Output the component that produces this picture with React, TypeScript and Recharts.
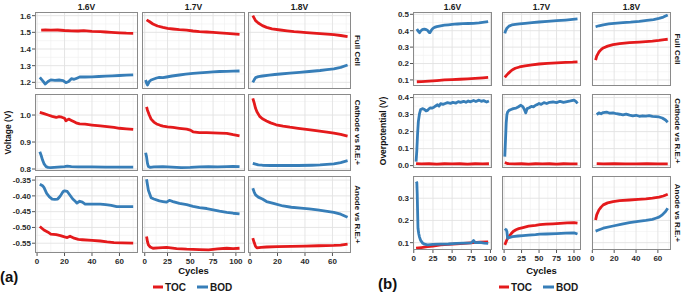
import { LineChart, Line, XAxis, YAxis, CartesianGrid } from "recharts";

type Pt = [number, number];

const FONT = '"Liberation Sans", Arial, sans-serif';
const RED = "#E41A1C";
const BLUE = "#377EB8";

const VOLTAGES = ["1.6V", "1.7V", "1.8V"];
const ROW_LABELS = ["Full Cell", "Cathode vs R.E.+", "Anode vs R.E.+"];
const SERIES = ["TOC", "BOD"];

// ---- (a) Voltage, [cycle, value] ----
const A_FC_16_TOC: Pt[] = [[3,1.513],[6,1.514],[10,1.513],[15,1.514],[20,1.511],[25,1.509],[30,1.508],[34,1.51],[40,1.506],[46,1.504],[50,1.502],[54,1.5],[60,1.497],[65,1.495],[70,1.494]];
const A_FC_16_BOD: Pt[] = [[2,1.23],[4,1.21],[6,1.19],[8,1.205],[10,1.215],[13,1.212],[16,1.214],[19,1.21],[21,1.198],[23,1.205],[25,1.222],[27,1.218],[29,1.225],[31,1.232],[35,1.232],[40,1.233],[45,1.235],[50,1.237],[55,1.239],[60,1.241],[65,1.243],[70,1.245]];
const A_FC_17_TOC: Pt[] = [[2,1.575],[5,1.565],[9,1.55],[14,1.538],[20,1.53],[25,1.524],[31,1.52],[38,1.516],[46,1.513],[53,1.508],[60,1.504],[68,1.502],[75,1.5],[82,1.497],[90,1.494],[97,1.491],[104,1.488]];
const A_FC_17_BOD: Pt[] = [[1,1.214],[2,1.195],[3,1.184],[5,1.205],[7,1.214],[10,1.22],[13,1.226],[16,1.23],[20,1.228],[24,1.232],[30,1.238],[38,1.244],[45,1.249],[53,1.254],[60,1.257],[68,1.26],[75,1.263],[82,1.265],[90,1.266],[97,1.267],[104,1.268]];
const A_FC_18_TOC: Pt[] = [[2,1.6],[3,1.585],[4,1.57],[6,1.556],[9,1.54],[12,1.53],[16,1.521],[22,1.514],[27,1.509],[32,1.504],[37,1.501],[41,1.498],[46,1.495],[51,1.492],[56,1.489],[61,1.486],[66,1.481],[71,1.474]];
const A_FC_18_BOD: Pt[] = [[2,1.2],[3,1.215],[4,1.228],[6,1.234],[9,1.238],[14,1.243],[18,1.247],[22,1.25],[29,1.255],[36,1.26],[43,1.265],[51,1.271],[56,1.276],[61,1.281],[66,1.29],[71,1.304]];

const A_CA_16_TOC: Pt[] = [[2,1.01],[5,1.005],[8,1.0],[11,0.995],[14,0.991],[16,0.994],[18,0.992],[20,0.988],[21,0.979],[23,0.985],[25,0.98],[27,0.975],[29,0.97],[31,0.967],[35,0.966],[40,0.963],[46,0.96],[51,0.957],[56,0.954],[60,0.951],[65,0.949],[70,0.947]];
const A_CA_16_BOD: Pt[] = [[2,0.864],[3,0.85],[4,0.833],[5,0.82],[6.5,0.809],[8,0.806],[10,0.805],[15,0.807],[20,0.809],[22,0.811],[25,0.809],[30,0.808],[40,0.808],[50,0.807],[60,0.807],[70,0.807]];
const A_CA_17_TOC: Pt[] = [[2,1.03],[3,1.018],[5,1.0],[7,0.985],[10,0.974],[13,0.967],[17,0.962],[20,0.959],[25,0.956],[31,0.954],[38,0.951],[46,0.948],[50,0.944],[53,0.938],[60,0.935],[68,0.935],[75,0.934],[82,0.933],[90,0.932],[97,0.927],[104,0.923]];
const A_CA_17_BOD: Pt[] = [[1,0.86],[2,0.845],[3,0.821],[4,0.809],[6,0.806],[10,0.808],[20,0.809],[30,0.807],[40,0.805],[50,0.806],[60,0.808],[70,0.809],[80,0.808],[90,0.809],[97,0.81],[104,0.809]];
const A_CA_18_TOC: Pt[] = [[2,1.062],[3,1.045],[4,1.025],[5,1.012],[7,0.995],[9,0.986],[12,0.978],[15,0.971],[19,0.964],[24,0.959],[29,0.955],[35,0.951],[41,0.947],[48,0.942],[56,0.937],[61,0.933],[66,0.928],[71,0.922]];
const A_CA_18_BOD: Pt[] = [[2,0.821],[4,0.818],[6,0.815],[9,0.814],[15,0.813],[25,0.813],[35,0.813],[45,0.814],[51,0.815],[56,0.817],[61,0.819],[66,0.824],[71,0.831]];

const A_AN_16_TOC: Pt[] = [[2,-0.497],[5,-0.508],[8,-0.515],[10,-0.521],[14,-0.523],[17,-0.526],[20,-0.53],[22,-0.532],[24,-0.528],[27,-0.534],[30,-0.538],[33,-0.539],[40,-0.541],[46,-0.543],[51,-0.546],[56,-0.548],[62,-0.549],[70,-0.55]];
const A_AN_16_BOD: Pt[] = [[2,-0.363],[4,-0.368],[5,-0.373],[7,-0.392],[9,-0.403],[11,-0.41],[13,-0.411],[15,-0.41],[16,-0.405],[17,-0.4],[19,-0.386],[20,-0.384],[22,-0.386],[24,-0.398],[26,-0.41],[28,-0.418],[29,-0.423],[31,-0.417],[33,-0.42],[35,-0.426],[40,-0.426],[46,-0.426],[50,-0.428],[54,-0.43],[58,-0.434],[64,-0.434],[70,-0.434]];
const A_AN_17_TOC: Pt[] = [[2,-0.529],[3,-0.545],[4,-0.555],[6,-0.562],[9,-0.566],[15,-0.565],[24,-0.563],[35,-0.567],[46,-0.569],[60,-0.57],[70,-0.571],[80,-0.568],[90,-0.566],[97,-0.567],[104,-0.566]];
const A_AN_17_BOD: Pt[] = [[2,-0.347],[3,-0.365],[4,-0.382],[6,-0.398],[7,-0.406],[10,-0.41],[16,-0.416],[20,-0.418],[24,-0.42],[27,-0.414],[31,-0.418],[38,-0.424],[46,-0.428],[53,-0.433],[60,-0.437],[68,-0.44],[75,-0.444],[82,-0.448],[90,-0.452],[97,-0.455],[104,-0.457]];
const A_AN_18_TOC: Pt[] = [[2,-0.534],[3,-0.548],[4,-0.56],[5,-0.565],[8,-0.563],[12,-0.562],[20,-0.561],[30,-0.56],[40,-0.559],[50,-0.558],[61,-0.557],[66,-0.556],[71,-0.553]];
const A_AN_18_BOD: Pt[] = [[2,-0.376],[3,-0.388],[4,-0.397],[6,-0.404],[9,-0.41],[12,-0.418],[17,-0.424],[24,-0.432],[30,-0.436],[37,-0.439],[43,-0.441],[49,-0.444],[55,-0.448],[61,-0.452],[66,-0.458],[71,-0.468]];

// ---- (b) Overpotential ----
const B_FC_16_TOC: Pt[] = [[4,0.089],[10,0.09],[20,0.093],[30,0.096],[40,0.1],[50,0.102],[60,0.104],[70,0.106],[80,0.109],[90,0.113],[97,0.116]];
const B_FC_16_BOD: Pt[] = [[4,0.41],[6,0.396],[7.5,0.388],[9,0.398],[11,0.406],[14,0.41],[16,0.407],[18,0.402],[20,0.39],[21,0.388],[23,0.403],[25,0.414],[27,0.42],[30,0.425],[35,0.43],[40,0.434],[45,0.436],[50,0.438],[57,0.441],[64,0.443],[71,0.444],[78,0.445],[85,0.448],[92,0.452],[97,0.455]];
const B_FC_17_TOC: Pt[] = [[1,0.116],[3,0.126],[6,0.14],[9,0.152],[12,0.162],[16,0.171],[22,0.179],[30,0.186],[40,0.192],[50,0.197],[62,0.201],[75,0.204],[88,0.207],[98,0.208],[105,0.21]];
const B_FC_17_BOD: Pt[] = [[1,0.384],[2,0.398],[4,0.415],[7,0.428],[11,0.435],[16,0.438],[22,0.441],[30,0.445],[40,0.449],[50,0.453],[62,0.457],[75,0.461],[88,0.465],[98,0.469],[105,0.472]];
const B_FC_18_TOC: Pt[] = [[3,0.221],[4,0.245],[6,0.27],[8,0.285],[10,0.295],[14,0.306],[19,0.315],[25,0.321],[34,0.327],[43,0.331],[49,0.334],[55,0.337],[61,0.341],[66,0.346],[69,0.348]];
const B_FC_18_BOD: Pt[] = [[3,0.424],[6,0.43],[10,0.436],[15,0.441],[20,0.445],[28,0.449],[35,0.452],[43,0.457],[50,0.463],[56,0.468],[61,0.475],[65,0.483],[69,0.496]];

const B_CA_16_TOC: Pt[] = [[3,0.012],[10,0.01],[20,0.011],[30,0.009],[40,0.011],[50,0.01],[60,0.011],[70,0.009],[80,0.011],[90,0.01],[98,0.011]];
const B_CA_16_BOD: Pt[] = [[3,0.023],[4,0.09],[5,0.19],[6,0.26],[7.5,0.306],[9,0.33],[11.8,0.335],[14,0.33],[16,0.322],[18,0.325],[20,0.335],[22,0.34],[24,0.338],[26.7,0.345],[29,0.352],[31,0.358],[33,0.35],[35,0.364],[38,0.36],[41,0.365],[44,0.37],[48,0.366],[51,0.372],[55,0.368],[58,0.376],[61,0.372],[65,0.378],[68,0.372],[71,0.38],[74,0.375],[78,0.383],[81,0.377],[85,0.385],[88,0.378],[91,0.382],[95,0.374],[98,0.38]];
const B_CA_17_TOC: Pt[] = [[1,0.018],[5,0.012],[15,0.01],[25,0.011],[35,0.009],[45,0.011],[55,0.01],[65,0.011],[75,0.009],[85,0.011],[95,0.01],[105,0.01]];
const B_CA_17_BOD: Pt[] = [[1,0.053],[2,0.15],[3,0.25],[4,0.3],[5,0.315],[7,0.325],[10,0.33],[13,0.335],[17,0.338],[20,0.345],[24,0.355],[27,0.345],[29,0.33],[31,0.31],[33,0.335],[36,0.34],[39,0.348],[42,0.345],[45,0.355],[48,0.36],[50,0.365],[53,0.36],[57,0.37],[61,0.365],[65,0.372],[70,0.374],[75,0.37],[80,0.378],[85,0.372],[90,0.376],[95,0.38],[100,0.385],[103,0.376],[105,0.365]];
const B_CA_18_TOC: Pt[] = [[4,0.012],[10,0.01],[20,0.011],[30,0.01],[40,0.01],[50,0.011],[60,0.01],[69,0.01]];
const B_CA_18_BOD: Pt[] = [[4,0.3],[6,0.31],[8,0.305],[10,0.312],[13,0.315],[16,0.308],[19,0.31],[22,0.305],[25,0.302],[28,0.298],[31,0.303],[34,0.297],[37,0.293],[40,0.296],[43,0.29],[46,0.293],[49,0.291],[52,0.294],[55,0.289],[58,0.288],[61,0.286],[64,0.28],[67,0.268],[69,0.255]];

const B_AN_16_TOC: Pt[] = [[3,0.075],[10,0.078],[18,0.082],[25,0.085],[35,0.09],[45,0.092],[56,0.095],[65,0.097],[78,0.1],[86,0.102],[97,0.104]];
const B_AN_16_BOD: Pt[] = [[3.2,0.375],[4,0.37],[4.5,0.32],[5,0.24],[5.5,0.165],[6.5,0.14],[7.5,0.125],[9,0.11],[11.8,0.097],[14,0.093],[18,0.09],[25,0.092],[35,0.093],[45,0.094],[56,0.097],[65,0.098],[75,0.099],[78,0.11],[80,0.1],[86,0.101],[92,0.098],[97,0.097]];
const B_AN_17_TOC: Pt[] = [[1,0.09],[3,0.105],[5,0.12],[7,0.128],[10,0.14],[13,0.15],[17,0.158],[21,0.163],[27,0.168],[35,0.174],[45,0.178],[51,0.181],[60,0.183],[70,0.185],[80,0.187],[90,0.189],[100,0.19],[105,0.188]];
const B_AN_17_BOD: Pt[] = [[1,0.163],[2,0.16],[3,0.158],[4,0.15],[5,0.12],[7,0.123],[12,0.127],[20,0.13],[27,0.132],[35,0.134],[45,0.136],[51,0.138],[60,0.139],[75,0.141],[88,0.143],[100,0.144],[105,0.139]];
const B_AN_18_TOC: Pt[] = [[3,0.202],[4,0.225],[6,0.247],[8,0.26],[10,0.27],[14,0.279],[19,0.285],[25,0.289],[34,0.292],[42,0.295],[49,0.297],[55,0.3],[61,0.305],[65,0.31],[69,0.318]];
const B_AN_18_BOD: Pt[] = [[3,0.152],[5,0.156],[10,0.165],[19,0.175],[26,0.182],[34,0.19],[42,0.196],[49,0.2],[55,0.205],[58,0.21],[61,0.215],[64,0.225],[67,0.24],[69,0.255]];

// axis ticks per column / row
const X_TICKS_70 = [0, 20, 40, 60];
const X_MINOR_70 = [10, 30, 50, 70];
const X_TICKS_100 = [0, 25, 50, 75, 100];
const X_MINOR_100 = [12.5, 37.5, 62.5, 87.5];

const A_Y_TICKS = [[1.2, 1.3, 1.4, 1.5, 1.6], [0.8, 0.9, 1.0], [-0.55, -0.5, -0.45, -0.4, -0.35]];
const A_Y_MINOR = [[1.25, 1.35, 1.45, 1.55], [0.85, 0.95, 1.05], [-0.575, -0.525, -0.475, -0.425, -0.375]];
const B_Y_TICKS = [[0.1, 0.2, 0.3, 0.4, 0.5], [0.0, 0.1, 0.2, 0.3, 0.4], [0.1, 0.2, 0.3]];
const B_Y_MINOR = [[0.15, 0.25, 0.35, 0.45], [0.05, 0.15, 0.25, 0.35], [0.15, 0.25, 0.35]];

const toRows = (pts: Pt[]) => pts.map(([c, v]) => ({ c, v }));

const FIG_A = {
  cols: [35, 142, 248],
  rows: [12, 94, 176],
  w: 103,
  h: 77,
  yw: 35,
  xh: 20.5,
  titleOffset: 7.5,
  yTitle: "Voltage (V)",
  xDomains: [[-1.5, 73.5], [-3, 110], [-1.5, 73.5]],
  xTicks: [X_TICKS_70, X_TICKS_100, X_TICKS_70],
  xMinor: [X_MINOR_70, X_MINOR_100, X_MINOR_70],
  yDomains: [[1.16, 1.622], [0.7926, 1.078], [-0.581, -0.337]],
  yTicks: A_Y_TICKS,
  yMinor: A_Y_MINOR,
  dec: [1, 1, 2],
  toc: [
    [A_FC_16_TOC, A_FC_17_TOC, A_FC_18_TOC],
    [A_CA_16_TOC, A_CA_17_TOC, A_CA_18_TOC],
    [A_AN_16_TOC, A_AN_17_TOC, A_AN_18_TOC],
  ],
  bod: [
    [A_FC_16_BOD, A_FC_17_BOD, A_FC_18_BOD],
    [A_CA_16_BOD, A_CA_17_BOD, A_CA_18_BOD],
    [A_AN_16_BOD, A_AN_17_BOD, A_AN_18_BOD],
  ],
};

const FIG_B = {
  cols: [413, 502, 592],
  rows: [12, 94, 176],
  w: 79,
  h: 74,
  yw: 35,
  xh: 23.5,
  titleOffset: 5,
  yTitle: "Overpotential (V)",
  xDomains: [[-1, 102], [-3, 110], [-0.3, 72]],
  xTicks: [X_TICKS_100, X_TICKS_100, X_TICKS_70],
  xMinor: [X_MINOR_100, X_MINOR_100, X_MINOR_70],
  yDomains: [[0.063, 0.514], [-0.014, 0.421], [0.067, 0.4]],
  yTicks: B_Y_TICKS,
  yMinor: B_Y_MINOR,
  dec: [1, 1, 1],
  toc: [
    [B_FC_16_TOC, B_FC_17_TOC, B_FC_18_TOC],
    [B_CA_16_TOC, B_CA_17_TOC, B_CA_18_TOC],
    [B_AN_16_TOC, B_AN_17_TOC, B_AN_18_TOC],
  ],
  bod: [
    [B_FC_16_BOD, B_FC_17_BOD, B_FC_18_BOD],
    [B_CA_16_BOD, B_CA_17_BOD, B_CA_18_BOD],
    [B_AN_16_BOD, B_AN_17_BOD, B_AN_18_BOD],
  ],
};

const TICK = { fontSize: 8, fontWeight: "bold", fill: "#2b2b2b", fontFamily: FONT };
const TITLE = { fontSize: 9, fontWeight: "bold", fill: "#111", fontFamily: FONT };

// room around each plot so tick labels at the edges are not clipped
const PAD_T = 6;
const PAD_B = 6;
const PAD_L = 6;
const PAD_R = 9;

function Facet({ fig, r, c }: { fig: typeof FIG_A; r: number; c: number }) {
  const showY = c === 0;
  const showX = r === 2;
  const left = fig.cols[c];
  const top = fig.rows[r];
  const padL = showY ? 0 : PAD_L;
  const cw = fig.w + (showY ? fig.yw : 0) + padL + PAD_R;
  const ch = fig.h + (showX ? fig.xh : 0) + PAD_T + PAD_B;
  const dec = fig.dec[r];

  return (
    <>
      <div style={{ position: "absolute", left: left - (showY ? fig.yw : padL), top: top - PAD_T }}>
        <LineChart width={cw} height={ch} margin={{ top: PAD_T, right: PAD_R, bottom: PAD_B, left: padL }}>
          <CartesianGrid
            stroke="#f0f0f0"
            strokeWidth={0.6}
            horizontalValues={fig.yMinor[r]}
            verticalValues={fig.xMinor[c]}
          />
          <CartesianGrid
            stroke="#e2e2e2"
            strokeWidth={0.9}
            horizontalValues={fig.yTicks[r]}
            verticalValues={fig.xTicks[c]}
          />
          <XAxis
            type="number"
            dataKey="c"
            domain={fig.xDomains[c]}
            allowDataOverflow
            ticks={fig.xTicks[c]}
            interval={0}
            hide={!showX}
            height={fig.xh}
            tickSize={3}
            tickMargin={2}
            axisLine={false}
            tickLine={{ stroke: "#555" }}
            tick={TICK}
            label={
              showX && c === 1
                ? { value: "Cycles", position: "insideBottom", offset: 0, style: { ...TITLE, fontSize: 9.5 } }
                : undefined
            }
          />
          <YAxis
            type="number"
            domain={fig.yDomains[r]}
            allowDataOverflow
            ticks={fig.yTicks[r]}
            interval={0}
            hide={!showY}
            width={fig.yw}
            tickSize={3}
            tickMargin={1}
            axisLine={false}
            tickLine={{ stroke: "#555" }}
            tick={TICK}
            tickFormatter={(v: number) => v.toFixed(dec)}
            label={
              showY && r === 1
                ? {
                    value: fig.yTitle,
                    angle: -90,
                    position: "insideLeft",
                    offset: fig.titleOffset,
                    style: { ...TITLE, fontSize: 8.5, textAnchor: "middle" },
                  }
                : undefined
            }
          />
          <Line
            data={toRows(fig.toc[r][c])}
            dataKey="v"
            name={SERIES[0]}
            stroke={RED}
            strokeWidth={2.8}
            dot={false}
            strokeLinejoin="round"
            isAnimationActive={false}
          />
          <Line
            data={toRows(fig.bod[r][c])}
            dataKey="v"
            name={SERIES[1]}
            stroke={BLUE}
            strokeWidth={2.8}
            dot={false}
            strokeLinejoin="round"
            isAnimationActive={false}
          />
        </LineChart>
      </div>
      <div
        style={{
          position: "absolute",
          left,
          top,
          width: fig.w,
          height: fig.h,
          border: "1.4px solid #8a8a8a",
          boxSizing: "border-box",
          pointerEvents: "none",
        }}
      />
    </>
  );
}

function Strips({ fig }: { fig: typeof FIG_A }) {
  const sx = fig.cols[2] + fig.w + 6;
  return (
    <>
      {VOLTAGES.map((v, i) => (
        <text
          key={v}
          x={fig.cols[i] + fig.w / 2}
          y={9.5}
          textAnchor="middle"
          fontSize={8.5}
          fontWeight="bold"
          fill="#1a1a1a"
        >
          {v}
        </text>
      ))}
      {ROW_LABELS.map((lab, i) => {
        const cy = fig.rows[i] + fig.h / 2;
        return (
          <text
            key={lab}
            x={sx}
            y={cy}
            textAnchor="middle"
            dominantBaseline="central"
            fontSize={8}
            fontWeight="bold"
            fill="#1a1a1a"
            transform={`rotate(90 ${sx} ${cy})`}
          >
            {lab}
          </text>
        );
      })}
    </>
  );
}

function LegendKey({ x }: { x: number }) {
  return (
    <g>
      <line x1={x} x2={x + 10} y1={287} y2={287} stroke={RED} strokeWidth={3} />
      <text x={x + 12} y={290.5} fontSize={10} fontWeight="bold" fill="#1a1a1a">
        {SERIES[0]}
      </text>
      <line x1={x + 44} x2={x + 55} y1={287} y2={287} stroke={BLUE} strokeWidth={3} />
      <text x={x + 57} y={290.5} fontSize={10} fontWeight="bold" fill="#1a1a1a">
        {SERIES[1]}
      </text>
    </g>
  );
}

export default function App() {
  const cells = [0, 1, 2].flatMap((r) => [0, 1, 2].map((c) => ({ r, c })));
  return (
    <div
      style={{
        position: "absolute",
        left: 0,
        top: 0,
        width: 685,
        height: 296,
        background: "#fff",
        fontFamily: FONT,
        overflow: "hidden",
      }}
    >
      <svg width={685} height={296} style={{ position: "absolute", left: 0, top: 0 }} fontFamily={FONT}>
        <Strips fig={FIG_A} />
        <Strips fig={FIG_B} />
        <text x={0} y={282} fontSize={15} fontWeight="bold" fill="#111">
          (a)
        </text>
        <text x={378} y={289} fontSize={15} fontWeight="bold" fill="#111">
          (b)
        </text>
        <LegendKey x={153} />
        <LegendKey x={499} />
      </svg>
      {cells.map(({ r, c }) => (
        <Facet key={`a-${r}-${c}`} fig={FIG_A} r={r} c={c} />
      ))}
      {cells.map(({ r, c }) => (
        <Facet key={`b-${r}-${c}`} fig={FIG_B} r={r} c={c} />
      ))}
    </div>
  );
}
